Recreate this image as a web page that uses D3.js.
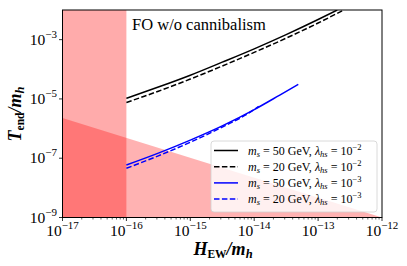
<!DOCTYPE html>
<html>
<head>
<meta charset="utf-8">
<script src="https://cdn.jsdelivr.net/npm/d3@7"></script>
<style>
  body { margin: 0; background: #fff; }
  svg text { font-family: "Liberation Serif", "DejaVu Serif", serif; }
</style>
</head>
<body>
<div id="chart"></div>
<script>
var width = 407, height = 266;
var margin = {left: 62.5, right: 25, top: 10, bottom: 48.5};

// data (log10 of H_EW/m_h and T_end/m_h)
var xDecades = [-17, -16, -15, -14, -13, -12];
var yDecades = [-9, -7, -5, -3];

var bandLogH = [-17, -16];              // excluded band
var boundLogH = [-17, -12];             // lower-left excluded wedge
var boundLogT = [-5.64, -9];

var blackSolidH = [-16, -15.5, -15, -14.5, -14, -13.5, -13, -12.7];
var blackSolidT = [-4.98, -4.60, -4.20, -3.76, -3.31, -2.83, -2.32, -2.0];
var blackDashH  = [-16, -15.5, -15, -14.5, -14, -13.5, -13, -12.6];
var blackDashT  = [-5.12, -4.74, -4.33, -3.89, -3.43, -2.95, -2.44, -2.0];
var blueSolidH  = [-16, -15.5, -15, -14.5, -14, -13.6, -13.31];
var blueSolidT  = [-7.23, -6.83, -6.39, -5.91, -5.36, -4.87, -4.51];
var blueDashH   = [-16, -15.5, -15, -14.5, -14, -13.93];
var blueDashT   = [-7.34, -6.92, -6.46, -5.95, -5.36, -5.25];

var legendLabels = [
  {ms: "50", lam: "\u22122", color: "#000", dash: null},
  {ms: "20", lam: "\u22122", color: "#000", dash: "5.5,2.4"},
  {ms: "50", lam: "\u22123", color: "#0000ff", dash: null},
  {ms: "20", lam: "\u22123", color: "#0000ff", dash: "5.5,2.4"}
];

var p = function(e) { return Math.pow(10, e); };

var x = d3.scaleLog().domain([1e-17, 1e-12]).range([margin.left, width - margin.right]);
var y = d3.scaleLog().domain([1e-9, 1e-2]).range([height - margin.bottom, margin.top]);

var svg = d3.select("#chart").append("svg")
    .attr("width", width)
    .attr("height", height);

svg.append("clipPath").attr("id", "clip")
  .append("rect")
    .attr("x", x.range()[0]).attr("y", y.range()[1])
    .attr("width", x.range()[1] - x.range()[0])
    .attr("height", y.range()[0] - y.range()[1]);

var plot = svg.append("g").attr("clip-path", "url(#clip)");

// shaded regions
plot.append("rect")
    .attr("x", x(p(bandLogH[0])))
    .attr("y", y.range()[1])
    .attr("width", x(p(bandLogH[1])) - x(p(bandLogH[0])))
    .attr("height", y.range()[0] - y.range()[1])
    .attr("fill", "red")
    .attr("fill-opacity", 0.33);

plot.append("path")
    .attr("d", d3.line()([
      [x(p(boundLogH[0])), y(1e-9)],
      [x(p(boundLogH[0])), y(p(boundLogT[0]))],
      [x(p(boundLogH[1])), y(p(boundLogT[1]))]
    ]) + "Z")
    .attr("fill", "red")
    .attr("fill-opacity", 0.3);

// curves
var line = d3.line()
    .x(function(d) { return x(p(d[0])); })
    .y(function(d) { return y(p(d[1])); })
    .curve(d3.curveMonotoneX);

function drawCurve(hs, ts, color, dash) {
  plot.append("path")
      .datum(d3.zip(hs, ts))
      .attr("d", line)
      .attr("fill", "none")
      .attr("stroke", color)
      .attr("stroke-width", 1.5)
      .attr("stroke-dasharray", dash);
}
drawCurve(blackSolidH, blackSolidT, "#000", null);
drawCurve(blackDashH, blackDashT, "#000", "5.5,2.4");
drawCurve(blueSolidH, blueSolidT, "#0000ff", null);
drawCurve(blueDashH, blueDashT, "#0000ff", "5.5,2.4");

// frame
svg.append("rect")
    .attr("x", x.range()[0]).attr("y", y.range()[1])
    .attr("width", x.range()[1] - x.range()[0])
    .attr("height", y.range()[0] - y.range()[1])
    .attr("fill", "none")
    .attr("stroke", "#000")
    .attr("stroke-width", 1);

// x axis
var minorX = [];
xDecades.slice(0, -1).forEach(function(d) {
  for (var k = 2; k < 10; k++) minorX.push(k * p(d));
});
var xAxisG = svg.append("g").attr("transform", "translate(0," + y.range()[0] + ")");
xAxisG.selectAll(".minor").data(minorX).enter().append("line")
    .attr("x1", function(d) { return x(d); }).attr("x2", function(d) { return x(d); })
    .attr("y1", 0).attr("y2", 2)
    .attr("stroke", "#000").attr("stroke-width", 0.6);
var xt = xAxisG.selectAll(".major").data(xDecades).enter().append("g")
    .attr("transform", function(d) { return "translate(" + x(p(d)) + ",0)"; });
xt.append("line").attr("y1", 0).attr("y2", 3.5).attr("stroke", "#000").attr("stroke-width", 0.8);
var xtt = xt.append("text").attr("y", 18.5).attr("text-anchor", "middle").attr("font-size", 15.5);
xtt.append("tspan").text("10");
xtt.append("tspan").attr("dy", -7).attr("font-size", 11).text(function(d) { return "\u2212" + (-d); });

// y axis
var yt = svg.append("g").selectAll("g").data(yDecades).enter().append("g")
    .attr("transform", function(d) { return "translate(" + x.range()[0] + "," + y(p(d)) + ")"; });
yt.append("line").attr("x1", 0).attr("x2", -3.5).attr("stroke", "#000").attr("stroke-width", 0.8);
var ytt = yt.append("text").attr("x", -5.5).attr("y", 5).attr("text-anchor", "end").attr("font-size", 15.5);
ytt.append("tspan").text("10");
ytt.append("tspan").attr("dy", -7).attr("font-size", 11).text(function(d) { return "\u2212" + (-d); });

// axis labels
var xl = svg.append("text")
    .attr("x", 223).attr("y", 255)
    .attr("text-anchor", "middle")
    .attr("font-size", 18).attr("font-weight", "bold").attr("font-style", "italic");
xl.append("tspan").text("H");
xl.append("tspan").attr("dy", 3).attr("font-size", 11.5).attr("font-style", "normal").text("EW");
xl.append("tspan").attr("dy", -3).text("/m");
xl.append("tspan").attr("dy", 3).attr("font-size", 12.5).text("h");

var yl = svg.append("text")
    .attr("transform", "translate(21,114) rotate(-90)")
    .attr("text-anchor", "middle")
    .attr("font-size", 18).attr("font-weight", "bold").attr("font-style", "italic");
yl.append("tspan").text("T");
yl.append("tspan").attr("dy", 3).attr("font-size", 11.5).attr("font-style", "normal").text("end");
yl.append("tspan").attr("dy", -3).text("/m");
yl.append("tspan").attr("dy", 3).attr("font-size", 12.5).text("h");

// annotation
svg.append("text")
    .attr("x", 132).attr("y", 30)
    .attr("font-size", 16.5)
    .text("FO w/o cannibalism");

// legend
var lg = svg.append("g").attr("transform", "translate(211,141)");
lg.append("rect")
    .attr("width", 166).attr("height", 71)
    .attr("rx", 3)
    .attr("fill", "#fff").attr("fill-opacity", 0.8)
    .attr("stroke", "#d0d0d0").attr("stroke-width", 0.8);
var row = lg.selectAll(".row").data(legendLabels).enter().append("g")
    .attr("transform", function(d, i) { return "translate(0," + (9.5 + i * 16.2) + ")"; });
row.append("line")
    .attr("x1", 3).attr("x2", 27)
    .attr("stroke", function(d) { return d.color; })
    .attr("stroke-width", 1.5)
    .attr("stroke-dasharray", function(d) { return d.dash; });
var lt = row.append("text").attr("x", 37).attr("y", 4).attr("font-size", 12);
lt.append("tspan").attr("font-style", "italic").text("m");
lt.append("tspan").attr("dy", 2).attr("font-size", 8.5).attr("font-style", "italic").text("s");
lt.append("tspan").attr("dy", -2).text(function(d) { return " = " + d.ms + " GeV, "; });
lt.append("tspan").attr("font-style", "italic").text("\u03bb");
lt.append("tspan").attr("dy", 2).attr("font-size", 8.5).attr("font-style", "italic").text("hs");
lt.append("tspan").attr("dy", -2).text(" = 10");
lt.append("tspan").attr("dy", -5).attr("font-size", 8.5).text(function(d) { return d.lam; });
</script>
</body>
</html>
